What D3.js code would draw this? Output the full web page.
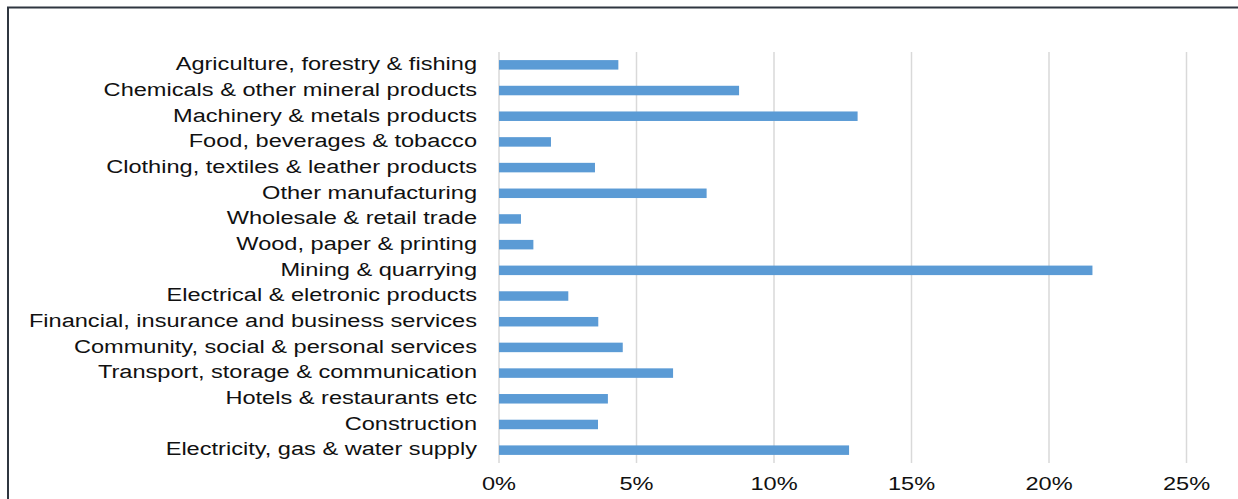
<!DOCTYPE html>
<html>
<head>
<meta charset="utf-8">
<script src="https://cdn.jsdelivr.net/npm/d3@7"></script>
<style>
  body { margin: 0; background: #fff; }
  text { font-family: "Liberation Sans", Arial, sans-serif; }
</style>
</head>
<body>
<script>
const categories = [
  'Agriculture, forestry & fishing',
  'Chemicals & other mineral products',
  'Machinery & metals products',
  'Food, beverages & tobacco',
  'Clothing, textiles & leather products',
  'Other manufacturing',
  'Wholesale & retail trade',
  'Wood, paper & printing',
  'Mining & quarrying',
  'Electrical & eletronic products',
  'Financial, insurance and business services',
  'Community, social & personal services',
  'Transport, storage & communication',
  'Hotels & restaurants etc',
  'Construction',
  'Electricity, gas & water supply',
]
const values = [4.34, 8.73, 13.04, 1.89, 3.49, 7.55, 0.8, 1.25, 21.58, 2.52, 3.61, 4.5, 6.33, 3.96, 3.6, 12.73]
const ticks = [0, 5, 10, 15, 20, 25]

const width = 1238
const height = 499
const margin = { top: 52, right: 51.5, bottom: 36, left: 499 }
// the source text is drawn wide, so stretch it sideways
const stretch = 1.31

const svg = d3.select('body').append('svg')
  .attr('width', width)
  .attr('height', height)

// outer frame
svg.append('rect')
  .attr('x', 8)
  .attr('y', 7.5)
  .attr('width', width)
  .attr('height', height)
  .attr('fill', 'none')
  .attr('stroke', '#2f3640')
  .attr('stroke-width', 2)

const x = d3.scaleLinear()
  .domain([0, 25])
  .range([margin.left, width - margin.right])

const y = d3.scaleBand()
  .domain(categories)
  .range([margin.top, height - margin.bottom])
  .paddingInner(0.63)
  .paddingOuter(0.315)

// gridlines
svg.append('g')
  .selectAll('line')
  .data(ticks)
  .join('line')
  .attr('x1', d => x(d))
  .attr('x2', d => x(d))
  .attr('y1', margin.top)
  .attr('y2', height - margin.bottom)
  .attr('stroke', '#d9d9d9')
  .attr('stroke-width', 1.5)

// bars
svg.append('g')
  .selectAll('rect')
  .data(values)
  .join('rect')
  .attr('x', x(0))
  .attr('y', (d, i) => y(categories[i]))
  .attr('width', d => x(d) - x(0))
  .attr('height', y.bandwidth())
  .attr('fill', '#5b9bd5')

// category labels
svg.append('g')
  .selectAll('text')
  .data(categories)
  .join('text')
  .attr('transform', d => `translate(477,${y(d) + y.bandwidth() / 2 - 1}) scale(${stretch},1)`)
  .attr('dy', '0.35em')
  .attr('text-anchor', 'end')
  .attr('font-size', 18)
  .attr('fill', '#111')
  .text(d => d)

// x axis labels
svg.append('g')
  .selectAll('text')
  .data(ticks)
  .join('text')
  .attr('transform', d => `translate(${x(d)},484) scale(${stretch},1)`)
  .attr('dy', '0.35em')
  .attr('text-anchor', 'middle')
  .attr('font-size', 18)
  .attr('fill', '#111')
  .text(d => `${d}%`)
</script>
</body>
</html>
